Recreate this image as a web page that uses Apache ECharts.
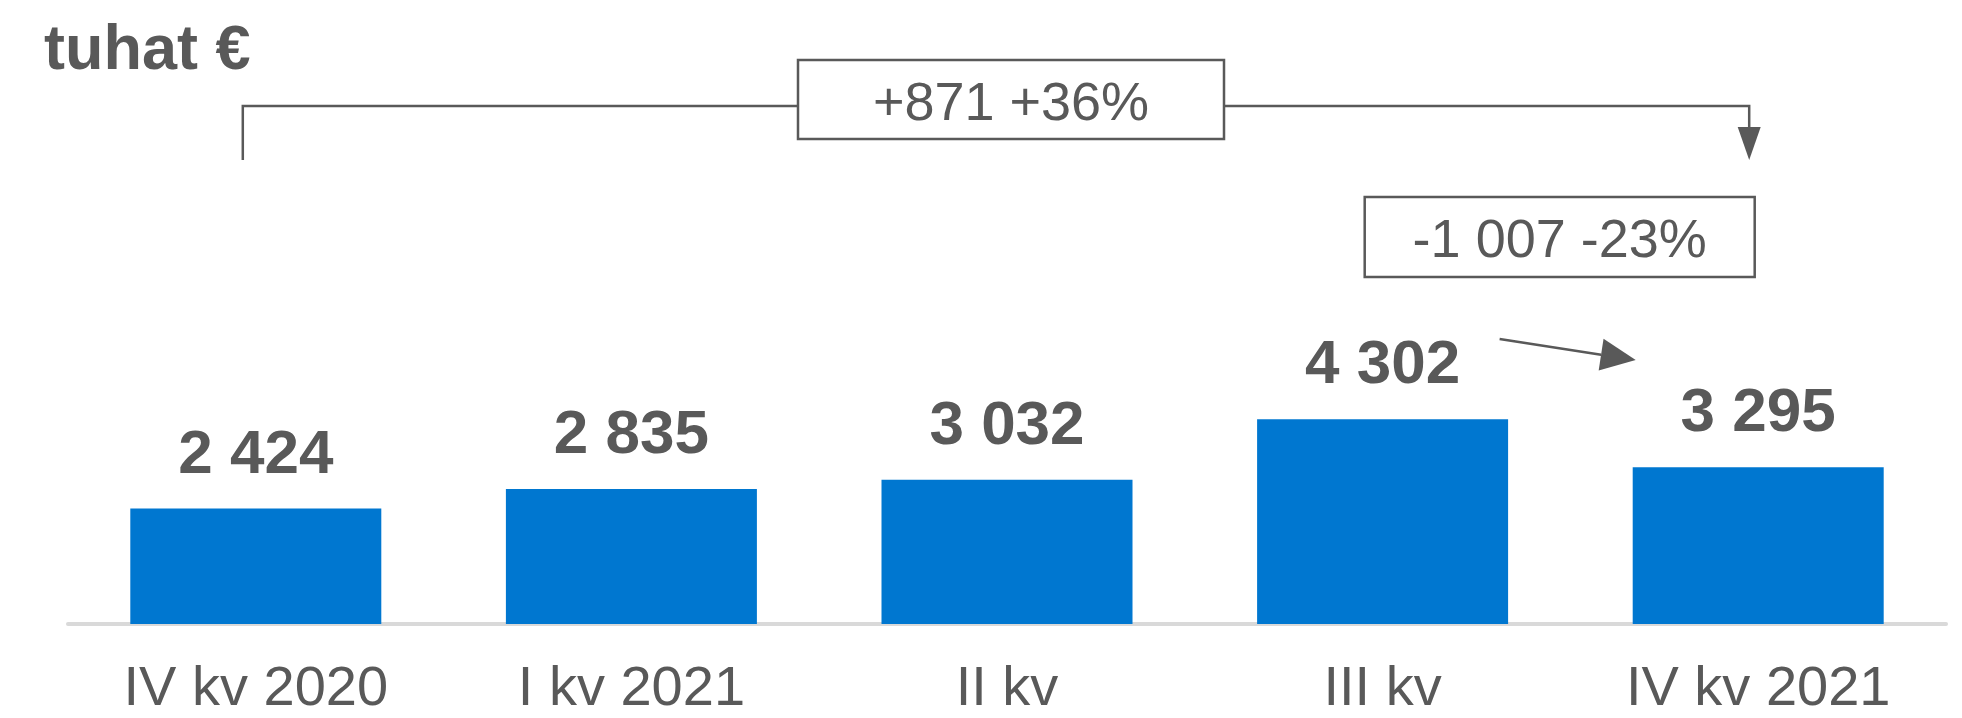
<!DOCTYPE html>
<html>
<head>
<meta charset="utf-8">
<script src="https://cdn.jsdelivr.net/npm/echarts@6/dist/echarts.min.js"></script>
<style>
  html, body { margin: 0; padding: 0; background: #fff; }
  #main { width: 1962px; height: 718px; }
</style>
</head>
<body>
<div id="main"></div>
<script>
// data
var categories = ['IV kv 2020', 'I kv 2021', 'II kv', 'III kv', 'IV kv 2021'];
var values = [2424, 2835, 3032, 4302, 3295];
var unitText = 'tuhat €';
var yearChange = '+871 +36%';
var quarterChange = '-1 007 -23%';

var grey = '#595959';
var font = '"Liberation Sans", Arial, sans-serif';

function fmt(v) {
    return String(v).replace(/\B(?=(\d{3})+(?!\d))/g, ' ');
}

var chart = echarts.init(document.getElementById('main'));

var option = {
    backgroundColor: '#fff',
    animation: false,
    title: {
        text: unitText,
        left: 44,
        top: 20,
        padding: 0,
        textStyle: { color: grey, fontSize: 63, fontWeight: 'bold', fontFamily: font, lineHeight: 63 }
    },
    grid: { left: 68, right: 16, top: 148, bottom: 92 },
    xAxis: {
        type: 'category',
        data: categories,
        axisTick: { show: false },
        axisLine: { lineStyle: { color: '#d9d9d9', width: 4 } },
        axisLabel: {
            color: grey, fontSize: 56, fontFamily: font, lineHeight: 56, margin: 38
        }
    },
    yAxis: {
        type: 'value',
        min: 0,
        max: 10000,
        show: false,
        splitLine: { show: false }
    },
    series: [
        {
            type: 'bar',
            data: values,
            barWidth: 251,
            itemStyle: { color: '#0077D0' },
            label: {
                show: true,
                position: 'top',
                distance: 22,
                color: grey,
                fontSize: 62,
                lineHeight: 62,
                fontWeight: 'bold',
                fontFamily: font,
                formatter: function (p) { return fmt(p.value); }
            }
        }
    ]
};

chart.setOption(option);

// annotations anchored to category positions
var xs = categories.map(function (c, i) {
    return chart.convertToPixel({ xAxisIndex: 0 }, i);
});

var lineStyle = { stroke: grey, lineWidth: 2.5, fill: null };
var boxStyle = { stroke: grey, lineWidth: 2.5, fill: '#fff' };
var boxText = { fill: grey, fontSize: 54, fontFamily: font, align: 'center', verticalAlign: 'middle' };

var bx = xs[0] - 13;
var ax = xs[4] - 9;
var b1c = (xs[0] + xs[4]) / 2 + 4;
var b2c = xs[4] - 198.5;

// small arrow from III kv to IV kv 2021
var p0 = [xs[3] + 117, 339];
var tip = [xs[4] - 122.5, 360];
var dx = tip[0] - p0[0], dy = tip[1] - p0[1];
var len = Math.sqrt(dx * dx + dy * dy);
var ux = dx / len, uy = dy / len;
var base = [tip[0] - 35 * ux, tip[1] - 35 * uy];

chart.setOption({
    graphic: [
        { type: 'polyline', shape: { points: [[bx, 160], [bx, 106], [ax, 106], [ax, 130]] }, style: lineStyle },
        { type: 'polygon', shape: { points: [[ax - 11.5, 127], [ax + 11.5, 127], [ax, 160]] }, style: { fill: grey } },
        { type: 'rect', shape: { x: b1c - 213, y: 60, width: 426, height: 79 }, style: boxStyle },
        { type: 'text', x: b1c, y: 105, style: Object.assign({ text: yearChange }, boxText) },
        { type: 'rect', shape: { x: b2c - 195, y: 197, width: 390, height: 80 }, style: boxStyle },
        { type: 'text', x: b2c, y: 242, style: Object.assign({ text: quarterChange }, boxText) },
        { type: 'line', shape: { x1: p0[0], y1: p0[1], x2: base[0], y2: base[1] }, style: { stroke: grey, lineWidth: 2.5 } },
        {
            type: 'polygon',
            shape: { points: [tip, [base[0] - 16 * uy, base[1] + 16 * ux], [base[0] + 16 * uy, base[1] - 16 * ux]] },
            style: { fill: grey }
        }
    ]
});
</script>
</body>
</html>
